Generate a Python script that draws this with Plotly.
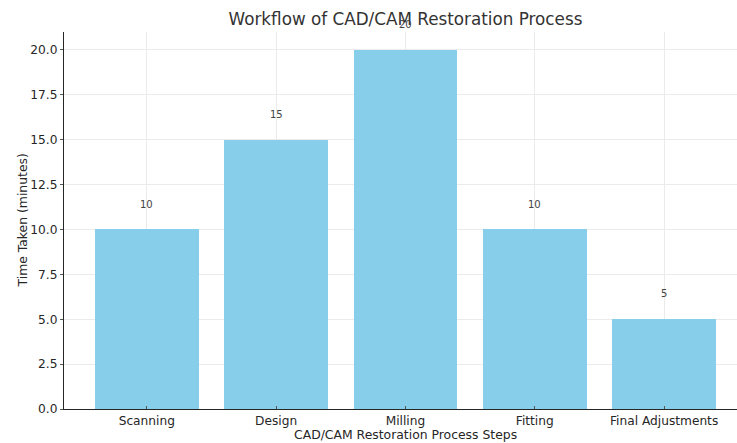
import plotly.graph_objects as go

steps = ["Scanning", "Design", "Milling", "Fitting", "Final Adjustments"]
minutes = [10, 15, 20, 10, 5]
y_ticks = [0.0, 2.5, 5.0, 7.5, 10.0, 12.5, 15.0, 17.5, 20.0]
y_tick_text = [f"{t:.1f}" for t in y_ticks]

W, H = 737, 443
L, R, T, B = 64, 0, 32, 34
plot_w = W - L - R
plot_h = H - T - B

font = "DejaVu Sans"
ink = "#262626"

fig = go.Figure(
    go.Bar(
        x=list(range(len(steps))),
        y=minutes,
        width=0.8,
        marker=dict(color="#87CEEB", line=dict(width=0)),
        hoverinfo="skip",
    )
)

# value labels sit one minute above each bar
for i, v in enumerate(minutes):
    fig.add_annotation(
        x=i, y=v + 1, text=str(v), showarrow=False,
        xref="x", yref="y", yanchor="bottom",
        font=dict(family=font, size=10, color="#444444"),
    )

# axis titles
fig.add_annotation(
    x=(405.5 - L) / plot_w, y=-25 / plot_h, xref="paper", yref="paper",
    text="CAD/CAM Restoration Process Steps", showarrow=False,
    xanchor="center", yanchor="middle",
    font=dict(family=font, size=12.4, color=ink),
)
fig.add_annotation(
    x=-42 / plot_w, y=0.5, xref="paper", yref="paper",
    text="Time Taken (minutes)", showarrow=False, textangle=-90,
    xanchor="center", yanchor="middle",
    font=dict(family=font, size=12.4, color=ink),
)

fig.update_layout(
    width=W, height=H,
    margin=dict(l=L, r=R, t=T, b=B, pad=0),
    paper_bgcolor="white", plot_bgcolor="white",
    showlegend=False,
    title=dict(
        text="Workflow of CAD/CAM Restoration Process",
        x=405.5 / W, xref="container", xanchor="center",
        y=1 - 19 / H, yref="container", yanchor="middle",
        font=dict(family=font, size=16.8, color="#333333"),
    ),
    bargap=0,
)

fig.update_xaxes(
    range=[-0.64, (W - 146) / 129.5],
    tickmode="array", tickvals=list(range(len(steps))), ticktext=steps,
    showgrid=True, gridcolor="#ebebeb", gridwidth=1,
    showline=True, linecolor=ink, linewidth=1.3,
    ticks="inside", ticklen=3, tickcolor="#555555", tickwidth=1,
    tickfont=dict(family=font, size=12.2, color=ink),
    zeroline=False, fixedrange=True,
)
fig.update_yaxes(
    range=[0, 21],
    tickmode="array", tickvals=y_ticks, ticktext=y_tick_text,
    showgrid=True, gridcolor="#ebebeb", gridwidth=1,
    showline=True, linecolor=ink, linewidth=1.3,
    ticks="outside", ticklen=3, tickcolor="#555555", tickwidth=1,
    tickfont=dict(family=font, size=12.2, color=ink),
    zeroline=False, fixedrange=True,
)

fig.write_html("out.html", config={"displayModeBar": False})
